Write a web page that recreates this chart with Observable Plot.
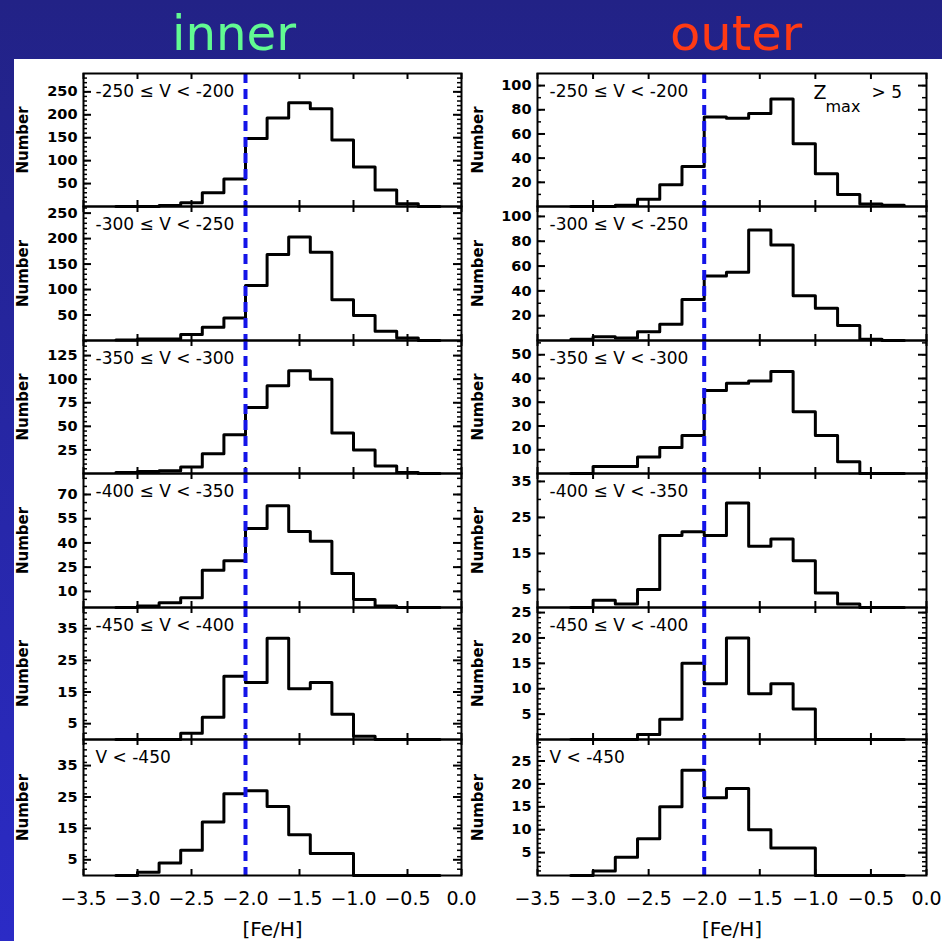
<!DOCTYPE html>
<html><head><meta charset="utf-8">
<script src="https://cdn.jsdelivr.net/npm/d3@7"></script>
<script src="https://cdn.jsdelivr.net/npm/@observablehq/plot@0.6"></script>
<style>
html,body{margin:0;padding:0;}
body{width:942px;height:941px;position:relative;overflow:hidden;background:linear-gradient(to bottom,#222286 0%,#23238e 12%,#2b2bc6 100%);}
#white{position:absolute;left:14px;top:59px;width:928px;height:882px;background:#fff;}
#titles{position:absolute;left:0;top:0;overflow:visible;}
.panel{position:absolute;}
.panel svg{overflow:visible;}
</style></head><body>
<div id="white"></div>
<svg id="titles" width="942" height="80">
  <text x="234" y="50" text-anchor="middle" font-family="DejaVu Sans" font-size="48" fill="#62fa92" textLength="124" lengthAdjust="spacingAndGlyphs">inner</text>
  <text x="736" y="50" text-anchor="middle" font-family="DejaVu Sans" font-size="48" fill="#ff3a14" textLength="132" lengthAdjust="spacingAndGlyphs">outer</text>
</svg>
<div id="root"></div>
<script>
// ---- data ----
const binLeftEdges = [-3.2,-3.0,-2.8,-2.6,-2.4,-2.2,-2.0,-1.8,-1.6,-1.4,-1.2,-1.0,-0.8,-0.6,-0.4];
const binWidth = 0.2;
const feHCut = -2.0;
const xTicks = [-3.5,-3.0,-2.5,-2.0,-1.5,-1.0,-0.5,0.0];
const velocityLabels = ["-250 \u2264 V < -200","-300 \u2264 V < -250","-350 \u2264 V < -300","-400 \u2264 V < -350","-450 \u2264 V < -400","V < -450"];

const inner_250_200 = [0,0,2,8,30,60,148,193,226,213,145,86,36,6,0];
const inner_300_250 = [1,3,3,12,26,44,108,169,203,173,80,49,18,5,0];
const inner_350_300 = [1,2,3,7,21,41,70,93,109,100,43,25,8,1,0];
const inner_400_350 = [0,1,3,6,23,29,49,63,47,41,21,5,1,0,0];
const inner_450_400 = [0,0,0,2,7,20,18,32,16,18,8,1,0,0,0];
const inner_lt450   = [0,1,4,8,17,26,27,22,13,7,7,0,0,0,0];

const outer_250_200 = [0,0,1,6,18,33,74,73,77,89,52,27,10,2,1];
const outer_300_250 = [1,3,2,7,13,33,52,55,89,77,36,26,12,1,0];
const outer_350_300 = [0,3,3,7,11,16,35,38,39,43,26,16,5,0,0];
const outer_400_350 = [0,2,1,5,20,21,20,29,17,19,13,4,1,0,0];
const outer_450_400 = [0,0,0,1,4,15,11,20,9,11,6,0,0,0,0];
const outer_lt450   = [0,1,4,8,15,23,17,19,10,6,6,0,0,0,0];

const innerYMax = [290,263,141,83,41.7,43.3];
const outerYMax = [110,108,56,37.2,26,29.7];
const innerYTicks = [[50,100,150,200,250],[50,100,150,200,250],[25,50,75,100,125],[10,25,40,55,70],[5,15,25,35],[5,15,25,35]];
const outerYTicks = [[20,40,60,80,100],[20,40,60,80,100],[10,20,30,40,50],[5,15,25,35],[5,10,15,20,25],[5,10,15,20,25]];
const innerMinorStep = [10,10,5,5,2,2];
const outerMinorStep = [10,10,5,5,1,1];

const innerCounts = [inner_250_200,inner_300_250,inner_350_300,inner_400_350,inner_450_400,inner_lt450];
const outerCounts = [outer_250_200,outer_300_250,outer_350_300,outer_400_350,outer_450_400,outer_lt450];

// ---- layout ----
const frameTops = [73,206,340,473,607,739,875];
const cols = [
  {left:14, width:456, ml:69, mr:9, numberDx:-60, counts:innerCounts, ymax:innerYMax, yticks:innerYTicks, minor:innerMinorStep},
  {left:470, width:472, ml:67, mr:16, numberDx:-59, counts:outerCounts, ymax:outerYMax, yticks:outerYTicks, minor:outerMinorStep}
];
const FONT = "DejaVu Sans";
const fmtX = d3.format(".1f");
const root = document.getElementById("root");

cols.forEach((c, ci) => {
  for (let r = 0; r < 6; r++) {
    const fh = frameTops[r+1] - frameTops[r];
    const fw = c.width - c.ml - c.mr;
    const isBottom = r === 5;
    const mb = isBottom ? 66 : 0;
    const counts = c.counts[r];
    const pts = binLeftEdges.map((x, i) => ({x, y: counts[i]}));
    pts.push({x: binLeftEdges[binLeftEdges.length-1] + binWidth, y: counts[counts.length-1]});
    const yMax = c.ymax[r];
    const major = c.yticks[r];
    const minor = d3.range(c.minor[r], yMax, c.minor[r]);
    const marks = [
      Plot.tickY(minor, {y: d => d, insetRight: fw - 4, stroke: "black", strokeWidth: 1.5}),
      Plot.tickY(minor, {y: d => d, insetLeft: fw - 4, stroke: "black", strokeWidth: 1.5}),
      Plot.tickY(major, {y: d => d, insetRight: fw - 8, stroke: "black", strokeWidth: 2}),
      Plot.tickY(major, {y: d => d, insetLeft: fw - 8, stroke: "black", strokeWidth: 2}),
      Plot.tickX(xTicks, {x: d => d, insetBottom: fh - 6, stroke: "black", strokeWidth: 2}),
      Plot.tickX(xTicks, {x: d => d, insetTop: fh - 6, stroke: "black", strokeWidth: 2}),
      Plot.text(major, {y: d => d, text: d => String(d), frameAnchor: "left", dx: -6, textAnchor: "end", lineAnchor: "middle", fontSize: 14.5, fontWeight: "bold", fontFamily: FONT, fill: "black"}),
      Plot.text(["Number"], {text: d => d, frameAnchor: "left", rotate: -90, dx: c.numberDx, fontSize: 15, fontWeight: "bold", fontFamily: FONT, textAnchor: "middle", lineAnchor: "middle", fill: "black"}),
      Plot.text([velocityLabels[r]], {text: d => d, frameAnchor: "top-left", dx: 12, dy: 18.5, textAnchor: "start", lineAnchor: "middle", fontSize: 17, fontFamily: FONT, fill: "black"}),
      Plot.line(pts, {x: "x", y: "y", curve: "step-after", stroke: "black", strokeWidth: 3}),
      Plot.ruleX([feHCut], {stroke: "#1414e8", strokeWidth: 4, strokeDasharray: "10,6"}),
      Plot.frame({stroke: "black", strokeWidth: 2})
    ];
    if (ci === 1 && r === 0) {
      marks.push(Plot.text(["Z"], {text: d => d, frameAnchor: "top-right", dx: -113, dy: 19, textAnchor: "start", lineAnchor: "middle", fontSize: 19, fontFamily: FONT, fill: "black"}));
      marks.push(Plot.text(["max"], {text: d => d, frameAnchor: "top-right", dx: -101, dy: 33, textAnchor: "start", lineAnchor: "middle", fontSize: 16, fontFamily: FONT, fill: "black"}));
      marks.push(Plot.text(["> 5"], {text: d => d, frameAnchor: "top-right", dx: -55, dy: 19, textAnchor: "start", lineAnchor: "middle", fontSize: 17, fontFamily: FONT, fill: "black"}));
    }
    if (isBottom) {
      marks.push(Plot.text(xTicks, {x: d => d, text: d => fmtX(d), frameAnchor: "bottom", dy: 23, textAnchor: "middle", lineAnchor: "middle", fontSize: 19, fontFamily: FONT, fill: "black"}));
      marks.push(Plot.text(["[Fe/H]"], {text: d => d, frameAnchor: "bottom", dy: 54, textAnchor: "middle", lineAnchor: "middle", fontSize: 20, fontFamily: FONT, fill: "black"}));
    }
    const chart = Plot.plot({
      width: c.width,
      height: fh + mb,
      marginLeft: c.ml, marginRight: c.mr, marginTop: 0, marginBottom: mb,
      style: {background: "transparent", overflow: "visible", fontFamily: FONT},
      x: {domain: [-3.5, 0.0], axis: null},
      y: {domain: [0, yMax], axis: null},
      marks
    });
    const div = document.createElement("div");
    div.className = "panel";
    div.style.left = c.left + "px";
    div.style.top = frameTops[r] + "px";
    div.appendChild(chart);
    root.appendChild(div);
  }
});
</script>
</body></html>
